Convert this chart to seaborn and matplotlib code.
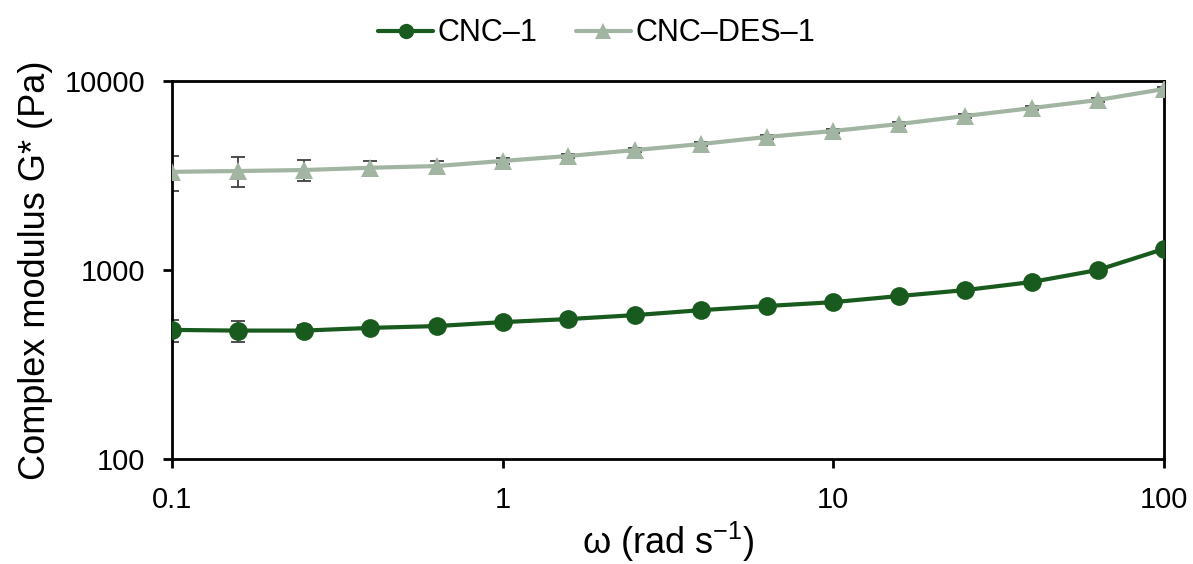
import numpy as np
import pandas as pd
import matplotlib
matplotlib.use("Agg")
import matplotlib.pyplot as plt
import seaborn as sns

# Angular frequency sweep (rad/s)
omega = [0.1, 0.158, 0.251, 0.398, 0.631, 1.0, 1.58, 2.51, 3.98, 6.31,
         10.0, 15.8, 25.1, 39.8, 63.1, 100.0]

# Complex modulus G* (Pa) and standard deviations
cnc1 = [482, 478, 478, 494, 505, 530, 550, 577, 613, 645,
        676, 728, 783, 864, 1000, 1293]
cnc1_err = [65, 60, 35, 25, 15, 10, 8, 8, 8, 8, 8, 8, 8, 8, 8, 8]

cnc_des1 = [3306, 3340, 3380, 3475, 3548, 3776, 4010, 4310, 4640, 5060,
            5440, 5920, 6530, 7190, 7930, 9070]
cnc_des1_err = [700, 600, 430, 300, 230, 150, 120, 120, 120, 120,
                130, 140, 150, 160, 170, 180]

series_names = ["CNC\u20131", "CNC\u2013DES\u20131"]
colors = ["#195a1e", "#a2b4a2"]
markers = ["o", "^"]

sns.set_theme(style="white")
plt.rcParams["font.family"] = ["Liberation Sans", "DejaVu Sans"]
plt.rcParams["mathtext.fontset"] = "custom"
plt.rcParams["mathtext.rm"] = "Liberation Sans"
plt.rcParams["text.color"] = "black"
plt.rcParams["axes.labelcolor"] = "black"
plt.rcParams["xtick.color"] = "black"
plt.rcParams["ytick.color"] = "black"

df = pd.concat([
    pd.DataFrame({"omega": omega, "G": cnc1, "err": cnc1_err, "sample": series_names[0]}),
    pd.DataFrame({"omega": omega, "G": cnc_des1, "err": cnc_des1_err, "sample": series_names[1]}),
])

fig = plt.figure(figsize=(11.93, 5.64), dpi=100)
ax = fig.add_axes([172 / 1193, 1 - 459 / 564, (1164 - 172) / 1193, (459 - 81) / 564])

# error bars first so markers sit on top
for name in series_names:
    sub = df[df["sample"] == name]
    ax.errorbar(sub["omega"], sub["G"], yerr=sub["err"], fmt="none",
                ecolor="#404040", elinewidth=1.3, capsize=5, capthick=1.3, zorder=2)

sns.lineplot(data=df, x="omega", y="G", hue="sample", style="sample",
             hue_order=series_names, style_order=series_names,
             palette=colors, markers=markers, dashes=False,
             linewidth=3, markersize=13.5, markeredgewidth=0,
             ax=ax, zorder=3, legend=True)

ax.set_xscale("log")
ax.set_yscale("log")
ax.set_xlim(0.1, 100)
ax.set_ylim(100, 10000)
ax.set_xticks([0.1, 1, 10, 100])
ax.set_xticklabels(["0.1", "1", "10", "100"])
ax.set_yticks([100, 1000, 10000])
ax.set_yticklabels(["100", "1000", "10000"])
ax.minorticks_off()

for side in ["left", "right", "top", "bottom"]:
    ax.spines[side].set_visible(True)
    ax.spines[side].set_color("black")
    ax.spines[side].set_linewidth(2.0)

ax.tick_params(axis="both", which="major", direction="out", length=6.5,
               width=2.0, color="black", labelsize=21, pad=13,
               bottom=True, left=True)

ax.set_xlabel("\u03c9 (rad $\\mathregular{s^{-1}}$)", fontsize=26, labelpad=4)
ax.set_ylabel("Complex modulus G* (Pa)", fontsize=26, labelpad=8)

handles, labels = ax.get_legend_handles_labels()
ax.get_legend().remove()
for h in handles:
    h.set_markersize(11)
fig.legend(handles, labels, loc="upper center", bbox_to_anchor=(0.5, 1.0),
           ncol=2, frameon=False, fontsize=22, handlelength=1.8,
           handletextpad=0.15, columnspacing=1.25, borderaxespad=0.2)

fig.savefig("out.png", dpi=100, facecolor="white")
